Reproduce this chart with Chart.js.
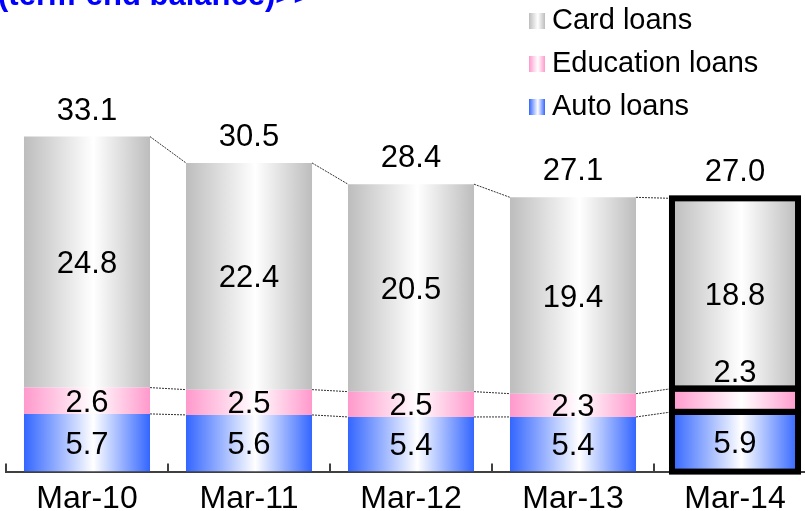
<!DOCTYPE html>
<html>
<head>
<meta charset="utf-8">
<script src="https://cdn.jsdelivr.net/npm/chart.js@4.4.1/dist/chart.umd.min.js"></script>
<style>
    html, body { margin: 0; padding: 0; background: #fff; overflow: hidden; }
    #wrap { width: 830px; height: 511px; }
</style>
</head>
<body>
<div id="wrap"><canvas id="loanChart" width="830" height="511"></canvas></div>
<script>
// Dữ liệu (tỷ yên, số dư cuối kỳ)
const categories = ['Mar-10', 'Mar-11', 'Mar-12', 'Mar-13', 'Mar-14'];
const autoLoans = [5.7, 5.6, 5.4, 5.4, 5.9];
const educationLoans = [2.6, 2.5, 2.5, 2.3, 2.3];
const cardLoans = [24.8, 22.4, 20.5, 19.4, 18.8];
const totals = [33.1, 30.5, 28.4, 27.1, 27.0];

const FONT = "'Liberation Sans', Arial, sans-serif";
const BAR_PCT = 0.778;
const HILITE = 4;     // kỳ mới nhất được đóng khung đen
const FRAME_W = 6;    // độ dày khung

// Tô màu chuyển sắc ngang: màu ở mép, trắng ở giữa
function barFill(ctx, edge) {
    const chart = ctx.chart;
    const xs = chart.scales.x;
    if (!xs || ctx.type !== 'data') return edge;
    const c = xs.getPixelForValue(ctx.dataIndex);
    const half = (xs.width / categories.length) * BAR_PCT / 2;
    if (!isFinite(c) || !isFinite(half) || half <= 0) return edge;
    const g = chart.ctx.createLinearGradient(c - half, 0, c + half, 0);
    g.addColorStop(0, edge);
    g.addColorStop(0.55, '#ffffff');
    g.addColorStop(1, edge);
    return g;
}

const series = [
    { label: 'Auto loans', data: autoLoans, color: '#3366ff' },
    { label: 'Education loans', data: educationLoans, color: '#ff99cc' },
    { label: 'Card loans', data: cardLoans, color: '#bdbdbd' }
];

// Plugin: đường nối chấm giữa các cột
const connectorPlugin = {
    id: 'connectors',
    beforeDatasetsDraw(chart) {
        const ctx = chart.ctx;
        ctx.save();
        ctx.strokeStyle = '#333';
        ctx.lineWidth = 1;
        ctx.setLineDash([2, 1]);
        series.forEach((s, d) => {
            const els = chart.getDatasetMeta(d).data;
            for (let i = 0; i < els.length - 1; i++) {
                const a = els[i].getProps(['x', 'y', 'width'], true);
                const b = els[i + 1].getProps(['x', 'y', 'width'], true);
                ctx.beginPath();
                ctx.moveTo(a.x + a.width / 2, a.y);
                ctx.lineTo(b.x - b.width / 2, b.y);
                ctx.stroke();
            }
        });
        ctx.restore();
    }
};

// Plugin: khung đen, nhãn giá trị, tổng, vạch chia trục, chú thích, tiêu đề
const overlayPlugin = {
    id: 'overlay',
    afterDatasetsDraw(chart) {
        const ctx = chart.ctx;
        const xs = chart.scales.x;
        const size = 31;
        ctx.save();

        // Khung đen cho kỳ mới nhất
        ctx.strokeStyle = '#000';
        ctx.lineWidth = FRAME_W;
        series.forEach((s, d) => {
            const el = chart.getDatasetMeta(d).data[HILITE];
            const p = el.getProps(['x', 'y', 'base', 'width'], true);
            ctx.strokeRect(p.x - p.width / 2, p.y, p.width, p.base - p.y);
        });

        ctx.fillStyle = '#000';
        ctx.textAlign = 'center';
        ctx.textBaseline = 'alphabetic';
        ctx.font = size + 'px ' + FONT;

        series.forEach((s, d) => {
            const meta = chart.getDatasetMeta(d);
            meta.data.forEach((el, i) => {
                const p = el.getProps(['x', 'y', 'base'], true);
                const inner = Math.abs(p.base - p.y) - (i === HILITE ? FRAME_W : 0);
                let cy = (p.y + p.base) / 2;
                if (inner < 20) cy = p.y - 18; // không đủ chỗ thì đặt lên trên
                ctx.fillText(s.data[i].toFixed(1), p.x, cy + size * 0.358);
            });
        });

        // Tổng trên đỉnh cột
        const top = chart.getDatasetMeta(series.length - 1).data;
        top.forEach((el, i) => {
            const p = el.getProps(['x', 'y'], true);
            ctx.fillText(totals[i].toFixed(1), p.x, p.y - 28 + size * 0.358);
        });

        // Vạch chia trục x (hướng lên)
        ctx.strokeStyle = '#404040';
        ctx.lineWidth = 2;
        const yb = chart.chartArea.bottom;
        for (let i = 0; i <= categories.length; i++) {
            const x = Math.round(xs.getPixelForValue(i - 0.5));
            ctx.beginPath();
            ctx.moveTo(x, yb);
            ctx.lineTo(x, yb - 8);
            ctx.stroke();
        }

        // Chú thích
        ctx.textAlign = 'left';
        ctx.font = '29px ' + FONT;
        const legendItems = [series[2], series[1], series[0]];
        legendItems.forEach((s, k) => {
            const base = 29 + k * 43;
            const g = ctx.createLinearGradient(529, 0, 545, 0);
            g.addColorStop(0, s.color);
            g.addColorStop(0.55, '#ffffff');
            g.addColorStop(1, s.color);
            ctx.fillStyle = g;
            ctx.fillRect(529, base - 16, 16, 16);
            ctx.fillStyle = '#000';
            ctx.fillText(s.label, 552, base);
        });

        // Tiêu đề (bị cắt phía trên)
        ctx.fillStyle = '#0000ff';
        ctx.font = 'bold 31px ' + FONT;
        ctx.fillText('(term-end balance)>>', -2, 5);
        ctx.restore();
    }
};

new Chart(document.getElementById('loanChart'), {
    type: 'bar',
    data: {
        labels: categories,
        datasets: series.map(s => ({
            label: s.label,
            data: s.data,
            backgroundColor: ctx => barFill(ctx, s.color),
            borderWidth: 0,
            inflateAmount: 0,
            barPercentage: BAR_PCT,
            categoryPercentage: 1
        }))
    },
    options: {
        responsive: false,
        animation: false,
        layout: { padding: { left: 6, right: 14, top: 0, bottom: -15 } },
        plugins: { legend: { display: false }, tooltip: { enabled: false } },
        scales: {
            x: {
                stacked: true,
                grid: { display: false, drawTicks: false },
                border: { display: true, color: '#404040', width: 2 },
                ticks: { color: '#000', font: { family: FONT, size: 32 }, padding: 8, maxRotation: 0 }
            },
            y: {
                stacked: true,
                display: false,
                min: 0,
                max: 46.6
            }
        }
    },
    plugins: [connectorPlugin, overlayPlugin]
});
</script>
</body>
</html>
